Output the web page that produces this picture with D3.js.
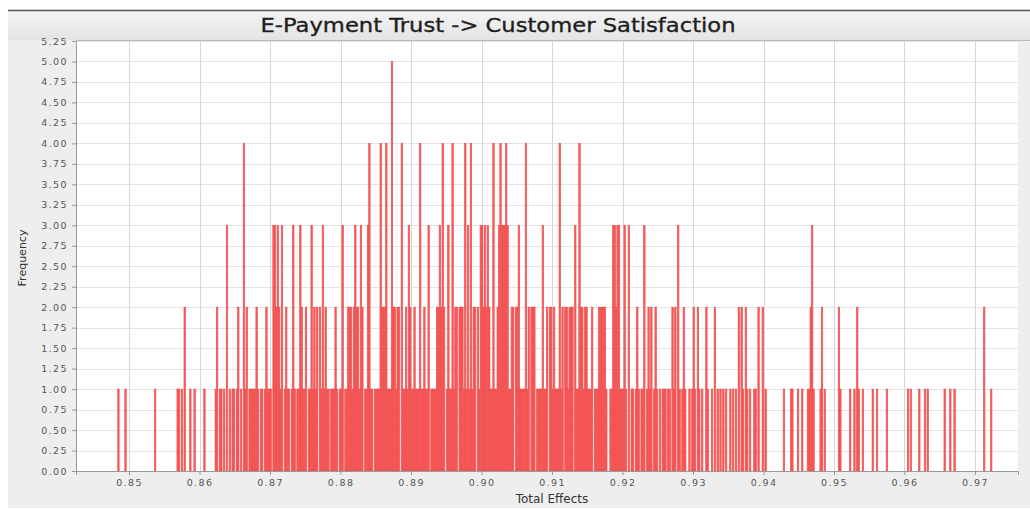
<!DOCTYPE html>
<html>
<head>
<meta charset="utf-8">
<script src="https://cdnjs.cloudflare.com/ajax/libs/d3/7.8.5/d3.min.js"></script>
<style>
    html, body { margin: 0; padding: 0; background: #fff; }
    #chart { width: 1030px; height: 509px; }
</style>
</head>
<body>
<div id="chart"></div>
<script>
// ------------------------------------------------- Data -------------------------------------------------
const chartTitle = "E-Payment Trust -> Customer Satisfaction";
const xLabel = "Total Effects";
const yLabel = "Frequency";

const binWidth = 0.0002; // width of one histogram bin
// start of each 0.01 wide block of bins
const blockStarts = [0.84, 0.85, 0.86, 0.87, 0.88, 0.89, 0.90, 0.91, 0.92, 0.93, 0.94, 0.95, 0.96, 0.97];
// frequency of each bin, one digit per bin, 50 bins per block
const blockFreqs = [
    "00000000000000000000000000000000000000000010000100",
    "00000000000000000010000000000000001101020001001000",
    "00010000000120110103010110120104120111112101101211",
    "10332321301211013101132112011312120213121101112101",
    "13011222123221320113411011114222411152212204112132",
    "11211141121130111122324201311412202221413141220213",
    "32323211411234333431122022311114120222011113112022",
    "12111412022122203114221221112011122222100113323311",
    "13103011012101130121201210101110110212031012100101",
    "21021010021001020101010100101010202102101001102002",
    "01000000000000100001100010010001123100001201000000",
    "00021000000100102100100000010010000001000000000000",
    "00101000001000101000000000001000100100000000000000",
    "00000020000100000000000000000000000000000000000000"
];

const xTickValues = [0.85, 0.86, 0.87, 0.88, 0.89, 0.90, 0.91, 0.92, 0.93, 0.94, 0.95, 0.96, 0.97];
const yTickValues = [0, 0.25, 0.5, 0.75, 1, 1.25, 1.5, 1.75, 2, 2.25, 2.5, 2.75, 3, 3.25, 3.5, 3.75, 4, 4.25, 4.5, 4.75, 5, 5.25];

// ------------------------------------------------- Build bins -------------------------------------------------
const bins = [];
blockStarts.forEach((start, b) => {
    blockFreqs[b].split("").forEach((ch, j) => {
        const count = +ch;
        if (count > 0) bins.push({ x0: start + j * binWidth, count: count });
    });
});

// ------------------------------------------------- Layout -------------------------------------------------
const width = 1030, height = 509;
const plot = { left: 76, right: 1018, top: 41, bottom: 471 };
const labelFont = "'DejaVu Sans', Verdana, sans-serif";

const svg = d3.select("#chart").append("svg")
    .attr("width", width)
    .attr("height", height);

// gradient for the title strip
const defs = svg.append("defs");
const grad = defs.append("linearGradient").attr("id", "titleGrad")
    .attr("x1", 0).attr("y1", 0).attr("x2", 0).attr("y2", 1);
grad.append("stop").attr("offset", "0%").attr("stop-color", "#f3f3f3");
grad.append("stop").attr("offset", "100%").attr("stop-color", "#e4e4e4");

// gray panel behind everything
svg.append("rect")
    .attr("x", 8).attr("y", 10)
    .attr("width", width - 8).attr("height", 498)
    .attr("fill", "#eeeeee");

// title strip
svg.append("rect")
    .attr("x", 8).attr("y", 11)
    .attr("width", width - 8).attr("height", 29)
    .attr("fill", "url(#titleGrad)");
svg.append("line")
    .attr("x1", 8).attr("x2", width)
    .attr("y1", 10.5).attr("y2", 10.5)
    .attr("stroke", "#555").attr("stroke-width", 1.5);

svg.append("text")
    .attr("x", 498).attr("y", 32)
    .attr("text-anchor", "middle")
    .attr("textLength", 475)
    .attr("lengthAdjust", "spacingAndGlyphs")
    .style("font-family", labelFont)
    .style("font-size", "20px")
    .style("fill", "#1e1e1e")
    .style("stroke", "#1e1e1e")
    .style("stroke-width", "0.35px")
    .text(chartTitle);

// white plot area
svg.append("rect")
    .attr("x", plot.left).attr("y", plot.top)
    .attr("width", plot.right - plot.left).attr("height", plot.bottom - plot.top)
    .attr("fill", "#fff");

// ------------------------------------------------- Scales -------------------------------------------------
const x = d3.scaleLinear()
    .domain([0.84248, 0.97610])
    .range([plot.left, plot.right]);

const y = d3.scaleLinear()
    .domain([0, 5.25])
    .range([plot.bottom, plot.top]);

// ------------------------------------------------- Grid -------------------------------------------------
svg.append("g").selectAll("line.hgrid")
    .data(yTickValues)
    .join("line")
    .attr("x1", plot.left).attr("x2", plot.right)
    .attr("y1", d => Math.round(y(d)) + 0.5).attr("y2", d => Math.round(y(d)) + 0.5)
    .attr("stroke", "#e4e4e4").attr("stroke-width", 1);

svg.append("g").selectAll("line.vgrid")
    .data(xTickValues)
    .join("line")
    .attr("x1", d => Math.round(x(d)) + 0.5).attr("x2", d => Math.round(x(d)) + 0.5)
    .attr("y1", plot.top).attr("y2", plot.bottom)
    .attr("stroke", "#d6d6d6").attr("stroke-width", 1);

// ------------------------------------------------- Bars -------------------------------------------------
svg.append("g").selectAll("rect")
    .data(bins)
    .join("rect")
    .attr("x", d => x(d.x0))
    .attr("width", d => x(d.x0 + binWidth) - x(d.x0))
    .attr("y", d => y(d.count))
    .attr("height", d => y(0) - y(d.count))
    .attr("fill", "#ff5a5a")
    .attr("stroke", "#ec5050")
    .attr("stroke-width", 0.7);

// ------------------------------------------------- Axes -------------------------------------------------
const xAxis = svg.append("g")
    .attr("transform", `translate(0,${plot.bottom})`)
    .call(d3.axisBottom(x).tickValues(xTickValues).tickFormat(d3.format(".2f")).tickSize(4).tickPadding(4));

const yAxis = svg.append("g")
    .attr("transform", `translate(${plot.left},0)`)
    .call(d3.axisLeft(y).tickValues(yTickValues).tickFormat(d3.format(".2f")).tickSize(4).tickPadding(4));

[xAxis, yAxis].forEach(ax => {
    ax.select(".domain").attr("stroke", "#999");
    ax.selectAll(".tick line").attr("stroke", "#999");
    ax.selectAll(".tick text")
        .style("font-family", labelFont)
        .style("font-size", "9.5px")
        .style("letter-spacing", "1.4px")
        .style("fill", "#555");
});

// plot top border
svg.append("line")
    .attr("x1", plot.left).attr("x2", width)
    .attr("y1", plot.top - 0.5).attr("y2", plot.top - 0.5)
    .attr("stroke", "#b8b8b8");

// ------------------------------------------------- Axis labels -------------------------------------------------
svg.append("text")
    .attr("x", 552).attr("y", 503)
    .attr("text-anchor", "middle")
    .style("font-family", labelFont)
    .style("font-size", "12px")
    .style("fill", "#333")
    .text(xLabel);

svg.append("text")
    .attr("transform", `translate(26,258) rotate(-90)`)
    .attr("text-anchor", "middle")
    .style("font-family", labelFont)
    .style("font-size", "11px")
    .style("fill", "#333")
    .text(yLabel);
</script>
</body>
</html>
